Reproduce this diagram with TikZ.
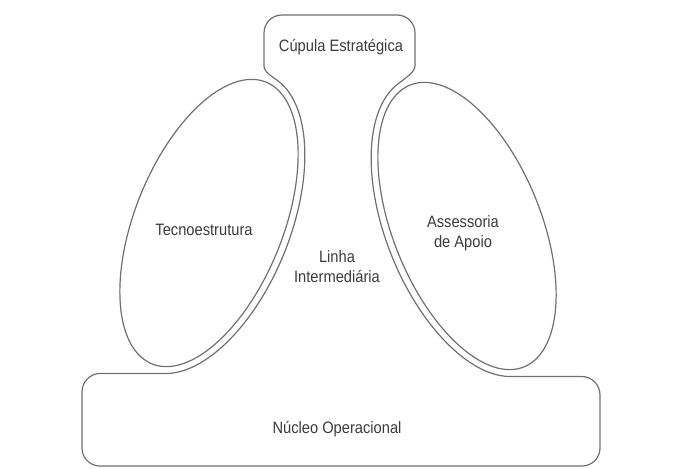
\documentclass[tikz,border=0pt]{standalone}
\usepackage{fontspec}
\setmainfont{Liberation Sans}[FakeStretch=0.89]
\definecolor{linec}{RGB}{112,112,112}
\definecolor{textc}{RGB}{60,60,60}
\begin{document}
\begin{tikzpicture}[x=1pt,y=-1pt,
  outline/.style={draw=linec,line width=1.2pt,line join=round},
  lbl/.style={text=textc,font=\fontsize{16.5}{20}\selectfont,align=center,inner sep=0pt}]
\useasboundingbox[fill=white] (0,0) rectangle (684,468);
% left ellipse (Tecnoestrutura)
\draw[outline] plot[variable=\t,domain=0:360,samples=120]
  ({209 + 152*cos(\t)*0.3746 + 74*sin(\t)*0.9272},
   {223 - 152*cos(\t)*0.9272 + 74*sin(\t)*0.3746}) -- cycle;
% right ellipse (Assessoria de Apoio)
\draw[outline] plot[variable=\t,domain=0:360,samples=120]
  ({467 - 152*cos(\t)*0.3746 - 74*sin(\t)*0.9272},
   {226 - 152*cos(\t)*0.9272 + 74*sin(\t)*0.3746}) -- cycle;
% outer contour: top box, necks, offset curves, bottom box
\draw[outline] (415,33) -- (415,66)
  .. controls (415,73) and (401.2,80.8) .. (395.2,86.1)
  -- plot[variable=\t,domain=10:168.4,samples=70]
  ({467 - 159*cos(\t)*0.3746 - 81*sin(\t)*0.9272},
   {226 - 159*cos(\t)*0.9272 + 81*sin(\t)*0.3746})
  -- (582,376.5) .. controls (592,376.5) and (600,385) .. (600,395)
  -- (600,448) .. controls (600,458) and (592,466) .. (582,466)
  -- (100,466) .. controls (90,466) and (82,458) .. (82,448)
  -- (82,392) .. controls (82,382) and (90,373.5) .. (100,373.5)
  -- (165.7,373.5)
  -- plot[variable=\s,domain=10:168.4,samples=70]
  ({209 + 159*cos(178.4-\s)*0.3746 + 81*sin(178.4-\s)*0.9272},
   {223 - 159*cos(178.4-\s)*0.9272 + 81*sin(178.4-\s)*0.3746})
  .. controls (274.8,77.8) and (264,73) .. (264,66)
  -- (264,33) .. controls (264,23) and (272,15) .. (282,15)
  -- (397,15) .. controls (407,15) and (415,23) .. (415,33) -- cycle;
% labels
\node[lbl] (cupula) at (341,47) {Cúpula Estratégica};
\node[lbl] (tecno) at (204,230) {Tecnoestrutura};
\node[lbl] (linha) at (337,267) {Linha\\Intermediária};
\node[lbl] (assess) at (463,233) {Assessoria\\de Apoio};
\node[lbl] (nucleo) at (337,429) {Núcleo Operacional};
\end{tikzpicture}
\end{document}
